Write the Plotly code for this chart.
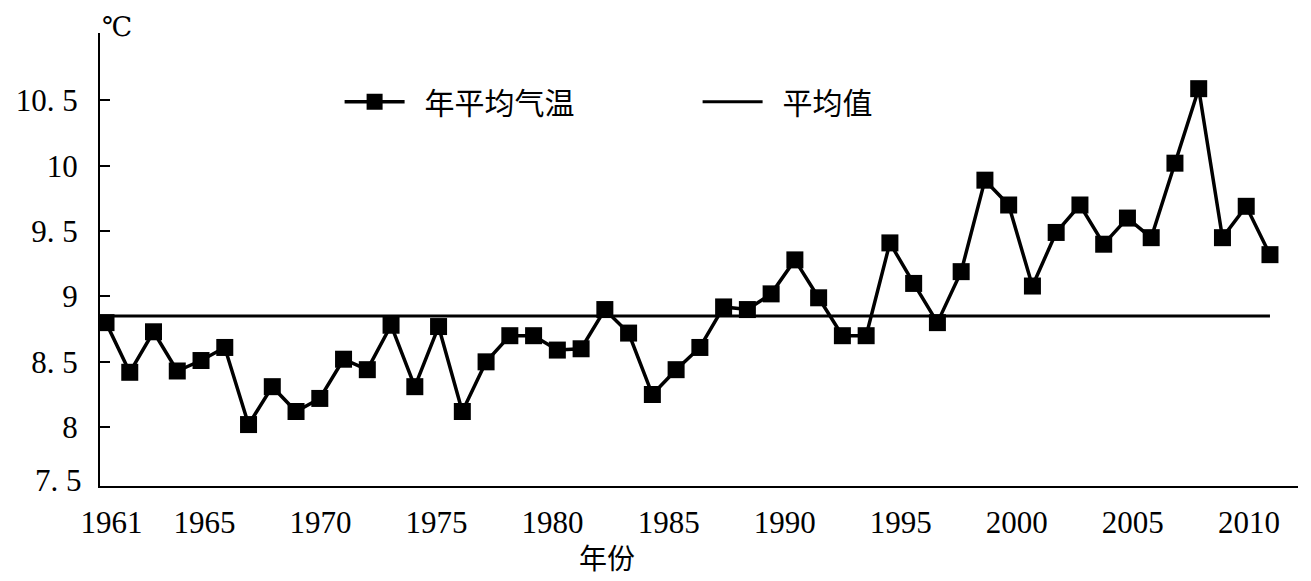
import plotly.graph_objects as go

years = list(range(1961, 2011))
temps = [8.80, 8.42, 8.73, 8.43, 8.51, 8.61, 8.02, 8.31, 8.12, 8.22,
         8.52, 8.44, 8.78, 8.31, 8.77, 8.12, 8.50, 8.70, 8.70, 8.59,
         8.60, 8.90, 8.72, 8.25, 8.44, 8.61, 8.92, 8.90, 9.02, 9.28,
         8.99, 8.70, 8.70, 9.41, 9.10, 8.80, 9.19, 9.89, 9.70, 9.08,
         9.49, 9.70, 9.40, 9.60, 9.45, 10.02, 10.59, 9.45, 9.69, 9.32]
mean_value = 8.85
x_tick_years = [1961, 1965, 1970, 1975, 1980, 1985, 1990, 1995, 2000, 2005, 2010]
y_tick_vals = [8, 8.5, 9, 9.5, 10, 10.5]
y_tick_text = ["8", "8. 5", "9", "9. 5", "10", "10. 5"]

X_RANGE = [1960.747, 2011.18]
X2_RANGE = [1960.50, 2012.116]
Y_RANGE = [7.55, 11.016]

SERIF = "'Liberation Serif', 'DejaVu Serif', serif"
CJK = "'Noto Sans CJK SC'"

fig = go.Figure()
fig.add_trace(go.Scatter(
    x=years, y=temps, mode="lines+markers", name="\u2002年平均气温",
    line=dict(color="black", width=3.5),
    marker=dict(symbol="square", size=17, color="black"),
))
fig.add_trace(go.Scatter(
    x=[X_RANGE[0], years[-1]], y=[mean_value, mean_value], mode="lines",
    name="\u2002平均值", line=dict(color="black", width=3),
))
# carrier trace for the label axis
fig.add_trace(go.Scatter(x=[x_tick_years[0]], y=[None], xaxis="x2",
                         showlegend=False, hoverinfo="skip"))

fig.update_layout(
    width=1311, height=581,
    margin=dict(l=100, r=13, t=33, b=95, pad=0),
    paper_bgcolor="white", plot_bgcolor="white",
    font=dict(family=SERIF, color="black"),
    xaxis=dict(range=X_RANGE, showline=True, linecolor="black", linewidth=2,
               showticklabels=False, ticks="", showgrid=False, zeroline=False),
    xaxis2=dict(range=X2_RANGE, overlaying="x", anchor="y", side="bottom",
                tickmode="array", tickvals=x_tick_years,
                ticktext=[str(v) for v in x_tick_years],
                tickfont=dict(family=SERIF, size=31), ticks="",
                showline=False, showgrid=False, zeroline=False,
                ticklabelstandoff=15),
    yaxis=dict(range=Y_RANGE, showline=True, linecolor="black", linewidth=2,
               tickmode="array", tickvals=y_tick_vals, ticktext=y_tick_text,
               ticks="inside", ticklen=10, tickwidth=2, tickcolor="black",
               tickfont=dict(family=SERIF, size=31), showgrid=False,
               zeroline=False, ticklabelstandoff=14),
    legend=dict(orientation="h", x=0.2, y=0.848, xanchor="left", yanchor="middle",
                font=dict(family=CJK, size=30), itemwidth=60,
                entrywidth=283, entrywidthmode="pixels",
                bgcolor="rgba(0,0,0,0)"),
    showlegend=True,
    annotations=[
        dict(text="℃", xref="paper", yref="paper", x=0, y=1.013,
             xanchor="left", yanchor="middle", showarrow=False,
             font=dict(family=SERIF, size=27)),
        dict(text="7. 5", xref="paper", yref="y", x=0, y=7.59,
             xanchor="right", yanchor="middle", xshift=-16, showarrow=False,
             font=dict(family=SERIF, size=31)),
        dict(text="年份", xref="paper", yref="paper", x=0.423, y=-0.156,
             xanchor="center", yanchor="middle", showarrow=False,
             font=dict(family=CJK, size=28)),
    ],
)

fig.write_html("out.html")
